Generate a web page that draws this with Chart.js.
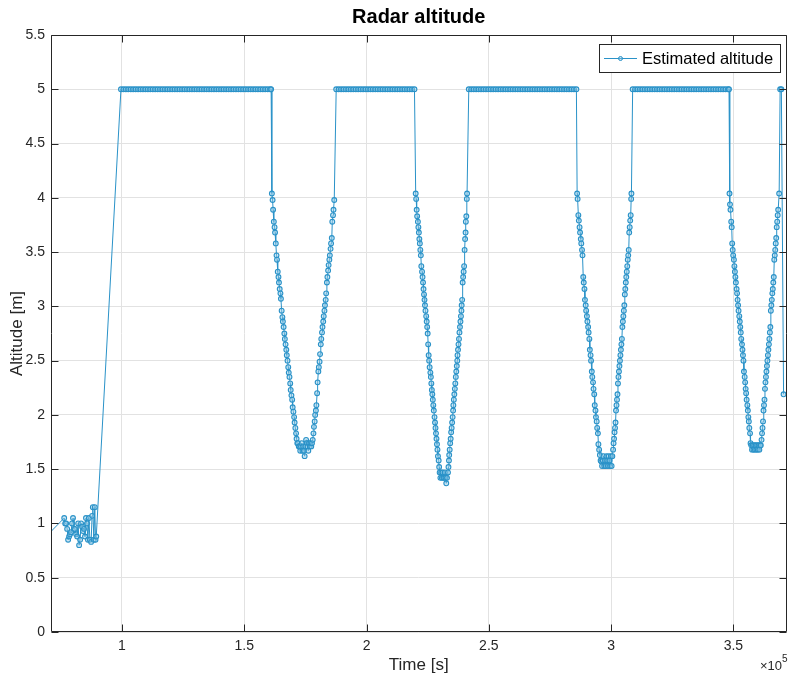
<!DOCTYPE html>
<html><head><meta charset="utf-8">
<script src="https://cdn.jsdelivr.net/npm/chart.js@4.4.1/dist/chart.umd.min.js"></script>
<style>html,body{margin:0;padding:0;background:#fff}#wrap{width:790px;height:676px}</style>
</head><body><div id="wrap"><canvas id="c" width="790" height="676"></canvas></div>
<script>
const chartTitle = 'Radar altitude';
const seriesLabel = 'Estimated altitude';
const xAxisTitle = 'Time [s]';
const yAxisTitle = 'Altitude [m]';
const xTickValues = [100000, 150000, 200000, 250000, 300000, 350000];
const xTickLabels = ['1', '1.5', '2', '2.5', '3', '3.5'];
const xExponent = '5';
const yTickValues = [0, 0.5, 1, 1.5, 2, 2.5, 3, 3.5, 4, 4.5, 5, 5.5];
const yTickLabels = ['0', '0.5', '1', '1.5', '2', '2.5', '3', '3.5', '4', '4.5', '5', '5.5'];

// time [s] / altitude [m], segment by segment
const startTime = [69000,76400,76800,77200,77600,78000,78400,78800,79200,79600,80000,80400,80800,81300,81700,82100,82500,82900,83300,83700,84100,84500,84900,85300,85700,86100,86500,86900,87400,87800,88100,88500,88900,89200,89500];
const startAlt  = [0.88,1.05,1.00,1.00,0.95,0.85,0.88,0.90,0.92,1.00,1.05,0.95,0.95,0.90,0.88,1.00,0.80,0.85,1.00,0.97,0.93,0.95,0.88,1.05,1.00,0.85,1.05,0.85,0.83,1.07,1.15,0.85,1.15,0.85,0.88];

const flat1Time = [99600,100600,101600,102600,103600,104600,105600,106600,107600,108600,
  109600,110600,111600,112600,113600,114600,115600,116600,117600,118600,
  119600,120600,121600,122600,123600,124600,125600,126600,127600,128600,
  129600,130600,131600,132600,133600,134600,135600,136600,137600,138600,
  139600,140600,141600,142600,143600,144600,145600,146600,147600,148600,
  149600,150600,151600,152600,153600,154600,155600,156600,157600,158600,
  159600,160600,161000];
const flat1Alt = [5,5,5,5,5,5,5,5,5,5, 5,5,5,5,5,5,5,5,5,5, 5,5,5,5,5,5,5,5,5,5, 5,5,5,5,5,5,5,5,5,5, 5,5,5,5,5,5,5,5,5,5, 5,5,5,5,5,5,5,5,5,5, 5,5,5];

const dip1DownTime = [161300,161600,161800,162100,162400,162600,162900,163200,163400,163700,164000,164200,164500,164800,165000,165300,165600,165800,166100,166400,166600,166900,167200,167400,167700,168000,168200,168500,168800,169000,169300,169600,169800,170100,170400,170600,170900,171200,171400];
const dip1DownAlt  = [4.04,3.98,3.89,3.78,3.73,3.68,3.58,3.47,3.43,3.32,3.27,3.22,3.16,3.12,3.07,2.96,2.90,2.86,2.81,2.75,2.70,2.65,2.60,2.55,2.50,2.44,2.39,2.35,2.29,2.23,2.18,2.14,2.07,2.03,1.98,1.93,1.88,1.83,1.78];
const dip1BottomTime = [171700,172000,172300,172600,172900,173200,173500,173800,174100,174400,174700,175000,175300,175600,175900,176200,176500,176800,177100,177400,177700,178000];
const dip1BottomAlt  = [1.74,1.74,1.71,1.71,1.67,1.71,1.74,1.67,1.71,1.67,1.62,1.71,1.77,1.74,1.71,1.67,1.74,1.71,1.74,1.71,1.74,1.77];
const dip1UpTime = [178300,178500,178800,179000,179300,179500,179800,180000,180300,180500,180800,181000,181300,181500,181800,182000,182300,182500,182800,183000,183300,183500,183800,184000,184300,184500,184800,185000,185300,185500,185800,186000,186300,186500,186800];
const dip1UpAlt  = [1.83,1.89,1.94,2.00,2.04,2.09,2.20,2.30,2.40,2.44,2.49,2.56,2.65,2.70,2.76,2.81,2.86,2.91,2.96,3.01,3.06,3.12,3.22,3.27,3.33,3.38,3.43,3.47,3.53,3.58,3.63,3.78,3.84,3.89,3.98];

const flat2Time = [187600,188600,189600,190600,191600,192600,193600,194600,195600,196600,
  197600,198600,199600,200600,201600,202600,203600,204600,205600,206600,
  207600,208600,209600,210600,211600,212600,213600,214600,215600,216600,
  217600,218600,219600];
const flat2Alt = [5,5,5,5,5,5,5,5,5,5, 5,5,5,5,5,5,5,5,5,5, 5,5,5,5,5,5,5,5,5,5, 5,5,5];

const dip2DownTime = [220100,220300,220500,220700,221000,221200,221400,221600,221800,222000,222200,222400,222700,222900,223100,223300,223500,223700,223900,224100,224400,224600,224800,225000,225200,225400,225600,225800,226100,226300,226500,226700,226900,227100,227300,227500,227800,228000,228200,228400,228600,228800,229000,229200,229500,229700,229900];
const dip2DownAlt  = [4.04,3.99,3.89,3.83,3.78,3.73,3.68,3.62,3.58,3.52,3.47,3.37,3.32,3.27,3.22,3.16,3.11,3.06,3.01,2.96,2.91,2.86,2.81,2.75,2.65,2.55,2.50,2.44,2.39,2.35,2.29,2.23,2.19,2.14,2.09,2.04,1.98,1.93,1.88,1.83,1.78,1.73,1.68,1.62,1.58,1.52,1.47];
const dip2BottomTime = [230200,230500,230800,231100,231400,231700,232000,232300,232600,232900];
const dip2BottomAlt  = [1.42,1.47,1.42,1.47,1.42,1.42,1.47,1.42,1.37,1.42];
const dip2UpTime = [233300,233500,233700,233800,234000,234200,234400,234600,234800,235000,235200,235400,235500,235700,235900,236100,236300,236500,236700,236900,237100,237200,237400,237600,237800,238000,238200,238400,238600,238800,238900,239100,239300,239500,239700,239900,240100,240300,240500,240600,240800,241000,241100];
const dip2UpAlt  = [1.47,1.52,1.58,1.63,1.68,1.74,1.78,1.84,1.88,1.93,1.98,2.04,2.09,2.14,2.19,2.24,2.29,2.35,2.40,2.45,2.50,2.55,2.60,2.65,2.70,2.76,2.81,2.86,2.91,2.96,3.01,3.06,3.22,3.27,3.32,3.37,3.52,3.62,3.68,3.78,3.83,3.99,4.04];

const flat3Time = [241800,242800,243800,244800,245800,246800,247800,248800,249800,250800,
  251800,252800,253800,254800,255800,256800,257800,258800,259800,260800,
  261800,262800,263800,264800,265800,266800,267800,268800,269800,270800,
  271800,272800,273800,274800,275800,276800,277800,278800,279800,280800,
  281800,282800,283800,284800,285800];
const flat3Alt = [5,5,5,5,5,5,5,5,5,5, 5,5,5,5,5,5,5,5,5,5, 5,5,5,5,5,5,5,5,5,5, 5,5,5,5,5,5,5,5,5,5, 5,5,5,5,5];

const dip3DownTime = [286100,286300,286600,286800,287100,287300,287600,287800,288100,288300,288600,288800,289100,289300,289600,289800,290100,290300,290600,290800,291100,291300,291600,291800,292100,292300,292600,292800,293100,293300,293600,293800,294100,294300,294600,294800,295100];
const dip3DownAlt  = [4.04,3.99,3.84,3.79,3.73,3.68,3.62,3.58,3.52,3.47,3.27,3.22,3.16,3.06,3.01,2.96,2.91,2.86,2.81,2.76,2.70,2.60,2.55,2.50,2.40,2.35,2.30,2.24,2.19,2.09,2.04,1.98,1.94,1.88,1.83,1.73,1.68];
const dip3BottomTime = [295400,295700,296000,296300,296600,296900,297200,297500,297800,298100,298400,298700,299000,299300,299600,299900,300200,300500];
const dip3BottomAlt  = [1.63,1.58,1.57,1.53,1.58,1.62,1.53,1.58,1.53,1.62,1.58,1.53,1.62,1.58,1.53,1.62,1.53,1.62];
const dip3UpTime = [300800,301000,301200,301400,301600,301800,302000,302200,302400,302600,302800,303000,303200,303400,303600,303800,304000,304200,304400,304600,304800,305000,305200,305400,305600,305800,306000,306200,306400,306600,306800,307000,307200,307400,307600,307800,308000,308200,308300];
const dip3UpAlt  = [1.68,1.74,1.78,1.84,1.88,1.93,2.04,2.09,2.14,2.19,2.29,2.35,2.40,2.45,2.50,2.55,2.60,2.65,2.70,2.81,2.86,2.91,2.96,3.01,3.11,3.16,3.22,3.27,3.32,3.37,3.43,3.47,3.52,3.68,3.73,3.79,3.84,3.99,4.04];

const flat4Time = [308800,309800,310800,311800,312800,313800,314800,315800,316800,317800,
  318800,319800,320800,321800,322800,323800,324800,325800,326800,327800,
  328800,329800,330800,331800,332800,333800,334800,335800,336800,337800,
  338800,339800,340800,341800,342800,343800,344800,345800,346800,347800,
  348200];
const flat4Alt = [5,5,5,5,5,5,5,5,5,5, 5,5,5,5,5,5,5,5,5,5, 5,5,5,5,5,5,5,5,5,5, 5,5,5,5,5,5,5,5,5,5, 5];

const dip4DownTime = [348400,348600,348800,349100,349300,349500,349700,349900,350200,350400,350600,350800,351000,351300,351500,351700,351900,352100,352400,352600,352800,353000,353200,353500,353700,353900,354100,354300,354600,354800,355000,355200,355400,355700,355900,356100,356300,356500,356800,357000];
const dip4DownAlt  = [4.04,3.94,3.89,3.78,3.73,3.58,3.52,3.47,3.43,3.37,3.32,3.27,3.22,3.16,3.12,3.06,3.01,2.96,2.91,2.86,2.81,2.76,2.70,2.65,2.60,2.55,2.50,2.40,2.35,2.30,2.24,2.20,2.14,2.09,2.04,1.98,1.94,1.88,1.83,1.74];
const dip4BottomTime = [357300,357600,357900,358200,358500,358800,359100,359400,359700,360000,360300,360600,360900,361200];
const dip4BottomAlt  = [1.72,1.68,1.72,1.68,1.72,1.68,1.72,1.68,1.72,1.68,1.72,1.68,1.72,1.72];
const dip4UpTime = [361500,361700,361900,362100,362300,362500,362700,362900,363100,363300,363500,363700,363900,364100,364300,364500,364700,364900,365100,365300,365500,365700,365900,366100,366300,366500,366700,366900,367100,367300,367500,367700,367900,368100,368300,368700];
const dip4UpAlt  = [1.77,1.83,1.88,1.94,2.04,2.09,2.14,2.24,2.30,2.35,2.40,2.45,2.50,2.55,2.60,2.65,2.70,2.76,2.81,2.96,3.01,3.06,3.12,3.16,3.22,3.27,3.43,3.47,3.52,3.58,3.63,3.73,3.78,3.84,3.89,4.04];

const endTime = [369100, 369600, 370500];
const endAlt  = [5, 5, 2.19];

const segments = [
  [startTime, startAlt], [flat1Time, flat1Alt],
  [dip1DownTime, dip1DownAlt], [dip1BottomTime, dip1BottomAlt], [dip1UpTime, dip1UpAlt], [flat2Time, flat2Alt],
  [dip2DownTime, dip2DownAlt], [dip2BottomTime, dip2BottomAlt], [dip2UpTime, dip2UpAlt], [flat3Time, flat3Alt],
  [dip3DownTime, dip3DownAlt], [dip3BottomTime, dip3BottomAlt], [dip3UpTime, dip3UpAlt], [flat4Time, flat4Alt],
  [dip4DownTime, dip4DownAlt], [dip4BottomTime, dip4BottomAlt], [dip4UpTime, dip4UpAlt], [endTime, endAlt]
];
const points = [];
segments.forEach(([t, a]) => {
  const n = Math.min(t.length, a.length);
  for (let i = 0; i < n; i++) points.push({ x: t[i], y: a[i] });
});

const FONT = '"Liberation Sans", Arial, Helvetica, sans-serif';
const AXIS_COLOR = '#262626';
const LINE_COLOR = '#2a92c8';
const TICK_LEN = 7;

const decorPlugin = {
  id: 'decor',
  afterDraw(chart) {
    const ctx = chart.ctx, a = chart.chartArea;
    const xs = chart.scales.x, ys = chart.scales.y;
    ctx.save();
    ctx.strokeStyle = AXIS_COLOR;
    ctx.lineWidth = 1;
    const L = Math.round(a.left) + 0.5, R = Math.round(a.right) - 0.5;
    const T = Math.round(a.top) + 0.5, B = Math.round(a.bottom) - 0.5;
    ctx.beginPath();
    ctx.rect(L, T, R - L, B - T);
    xTickValues.forEach(v => {
      const p = Math.round(xs.getPixelForValue(v)) + 0.5;
      ctx.moveTo(p, B); ctx.lineTo(p, B - TICK_LEN);
      ctx.moveTo(p, T); ctx.lineTo(p, T + TICK_LEN);
    });
    yTickValues.forEach(v => {
      const p = Math.round(ys.getPixelForValue(v)) + 0.5;
      ctx.moveTo(L, p); ctx.lineTo(L + TICK_LEN, p);
      ctx.moveTo(R, p); ctx.lineTo(R - TICK_LEN, p);
    });
    ctx.stroke();

    // exponent label of the x axis
    ctx.fillStyle = AXIS_COLOR;
    ctx.textBaseline = 'alphabetic';
    ctx.textAlign = 'left';
    ctx.font = '13px ' + FONT;
    const base = '\u00d710';
    const bw = ctx.measureText(base).width;
    ctx.font = '10px ' + FONT;
    const ew = ctx.measureText(xExponent).width;
    const x0 = a.right - bw - ew + 1;
    ctx.font = '13px ' + FONT;
    ctx.fillText(base, x0, 670);
    ctx.font = '10px ' + FONT;
    ctx.fillText(xExponent, x0 + bw, 662);

    // legend box inside the axes, top right
    const ds = chart.data.datasets[0];
    const bx = 599, by = 44, bw2 = 182, bh = 29;
    ctx.fillStyle = '#ffffff';
    ctx.fillRect(bx, by, bw2, bh);
    ctx.strokeStyle = AXIS_COLOR;
    ctx.strokeRect(bx + 0.5, by + 0.5, bw2 - 1, bh - 1);
    const cy = by + bh / 2;
    ctx.strokeStyle = ds.borderColor;
    ctx.lineWidth = 1;
    ctx.beginPath();
    ctx.moveTo(bx + 5, cy); ctx.lineTo(bx + 38, cy);
    ctx.stroke();
    ctx.beginPath();
    ctx.arc(bx + 21.5, cy, 2, 0, Math.PI * 2);
    ctx.fillStyle = ds.pointBackgroundColor;
    ctx.fill();
    ctx.stroke();
    ctx.fillStyle = '#000000';
    ctx.font = '16.5px ' + FONT;
    ctx.textBaseline = 'middle';
    ctx.fillText(ds.label, bx + 43, cy + 1);
    ctx.restore();
  }
};

new Chart(document.getElementById('c'), {
  type: 'line',
  data: {
    datasets: [{
      label: seriesLabel,
      data: points,
      borderColor: LINE_COLOR,
      borderWidth: 1,
      pointRadius: 2.4,
      pointBorderWidth: 1.1,
      pointHoverRadius: 2.4,
      pointBorderColor: LINE_COLOR,
      pointBackgroundColor: 'rgba(140,200,230,0.45)',
      tension: 0,
      fill: false
    }]
  },
  options: {
    responsive: false,
    animation: false,
    devicePixelRatio: 1,
    events: [],
    layout: { padding: { left: 0, right: 1, top: 0, bottom: 0 } },
    plugins: {
      legend: { display: false },
      tooltip: { enabled: false },
      title: {
        display: true, text: chartTitle, fullSize: false, color: '#000000',
        font: { family: FONT, size: 20, weight: 'bold', lineHeight: 1.2 },
        padding: { top: 5, bottom: 6 }
      }
    },
    scales: {
      x: {
        type: 'linear', min: 71000, max: 371700,
        afterBuildTicks: s => { s.ticks = xTickValues.map(v => ({ value: v })); },
        afterFit: s => { s.height = 44; },
        ticks: {
          color: AXIS_COLOR, font: { family: FONT, size: 14 }, padding: 6, maxRotation: 0,
          callback: (v) => { const i = xTickValues.indexOf(v); return i >= 0 ? xTickLabels[i] : ''; }
        },
        grid: { color: '#e2e2e2', lineWidth: 1, drawTicks: false },
        border: { display: false },
        title: { display: true, text: xAxisTitle, color: AXIS_COLOR, font: { family: FONT, size: 17 }, padding: { top: 0, bottom: 0 } }
      },
      y: {
        type: 'linear', min: 0, max: 5.5,
        afterBuildTicks: s => { s.ticks = yTickValues.map(v => ({ value: v })); },
        afterFit: s => { s.width = 51; },
        ticks: {
          color: AXIS_COLOR, font: { family: FONT, size: 14 }, padding: 6,
          callback: (v) => { const i = yTickValues.indexOf(v); return i >= 0 ? yTickLabels[i] : ''; }
        },
        grid: { color: '#e2e2e2', lineWidth: 1, drawTicks: false },
        border: { display: false },
        title: { display: true, text: yAxisTitle, color: AXIS_COLOR, font: { family: FONT, size: 17 }, padding: { top: 7, bottom: 0 } }
      }
    }
  },
  plugins: [decorPlugin]
});
</script></body></html>
